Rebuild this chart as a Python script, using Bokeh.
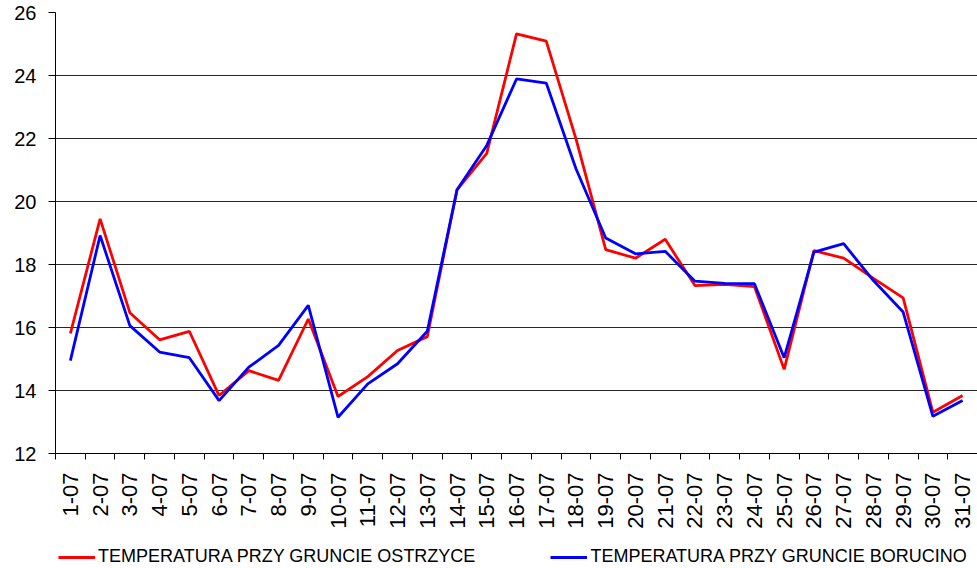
import math
from bokeh.plotting import figure
from bokeh.layouts import column
from bokeh.models import Range1d, FixedTicker, Legend, LegendItem
from bokeh.embed import file_html
from bokeh.resources import INLINE

days = list(range(1, 32))
day_labels = [f"{d}-07" for d in days]

ostrzyce = [15.81, 19.45, 16.47, 15.61, 15.88, 13.84, 14.63, 14.32, 16.27, 13.81,
            14.44, 15.27, 15.71, 20.37, 21.53, 25.32, 25.09, 21.99, 18.47, 18.20,
            18.80, 17.33, 17.37, 17.30, 14.67, 18.44, 18.20, 17.56, 16.94, 13.31, 13.84]
borucino = [14.95, 18.92, 16.06, 15.22, 15.04, 13.68, 14.74, 15.43, 16.70, 13.15,
            14.21, 14.85, 15.88, 20.37, 21.78, 23.89, 23.76, 21.04, 18.84, 18.34,
            18.42, 17.47, 17.40, 17.39, 15.04, 18.39, 18.66, 17.49, 16.49, 13.18, 13.68]

series_names = ["TEMPERATURA PRZY GRUNCIE OSTRZYCE", "TEMPERATURA PRZY GRUNCIE BORUCINO"]
series_colors = ["#FF0000", "#0000FF"]

y_ticks = [12, 14, 16, 18, 20, 22, 24, 26]

FONT = "Liberation Sans"

p = figure(frame_width=922, frame_height=441, output_backend="svg", toolbar_location=None,
           x_range=Range1d(0.5, 31.5), y_range=Range1d(12, 26),
           min_border_left=55, min_border_right=0, min_border_top=12, min_border_bottom=0)
p.outline_line_color = None
p.background_fill_color = "white"

p.line(days, ostrzyce, line_color=series_colors[0], line_width=2.8)
p.line(days, borucino, line_color=series_colors[1], line_width=2.8)

# y axis
p.yaxis.ticker = FixedTicker(ticks=y_ticks)
p.yaxis.major_label_text_font = FONT
p.yaxis.major_label_text_font_size = "20px"
p.yaxis.major_label_text_color = "black"
p.yaxis.major_tick_out = 7
p.yaxis.major_tick_in = 0
p.yaxis.minor_tick_line_color = None
p.yaxis.axis_line_color = "black"
p.yaxis.major_label_standoff = 12
p.ygrid.ticker = FixedTicker(ticks=y_ticks)
p.ygrid.grid_line_color = "black"
p.ygrid.grid_line_width = 1
p.ygrid.grid_line_alpha = 0.85

# x axis
p.xaxis.ticker = FixedTicker(ticks=days, minor_ticks=[d - 0.5 for d in days] + [31.5])
p.xaxis.major_label_overrides = {d: lab for d, lab in zip(days, day_labels)}
p.xaxis.major_label_orientation = math.pi / 2
p.xaxis.major_label_text_font = FONT
p.xaxis.major_label_text_font_size = "22px"
p.xaxis.major_label_text_color = "black"
p.xaxis.major_tick_line_color = None
p.xaxis.major_tick_out = 6
p.xaxis.minor_tick_out = 6
p.xaxis.minor_tick_in = 0
p.xaxis.minor_tick_line_color = "black"
p.xaxis.axis_line_color = "black"
p.xaxis.major_label_standoff = 13
p.xgrid.grid_line_color = None

# legend strip below the chart
lg = figure(width=977, height=36, output_backend="svg", toolbar_location=None,
            x_axis_location=None, y_axis_location=None,
            x_range=Range1d(0, 1), y_range=Range1d(0, 1),
            min_border_left=0, min_border_right=0, min_border_top=0, min_border_bottom=0)
lg.outline_line_color = None
lg.xgrid.grid_line_color = None
lg.ygrid.grid_line_color = None
# renderers used only for the legend swatches; their points lie outside the strip's ranges
dummies = [lg.line([5, 6], [5, 5], line_color=c, line_width=2.8) for c in series_colors]

legend = Legend(items=[LegendItem(label=n, renderers=[r]) for n, r in zip(series_names, dummies)],
                orientation="horizontal", location=(3, 0),
                border_line_color=None, background_fill_alpha=0,
                label_text_font=FONT, label_text_font_size="18px",
                label_text_color="black",
                glyph_width=37, glyph_height=20, label_standoff=3, spacing=75,
                padding=0, margin=0)
lg.add_layout(legend, "center")

layout = column(p, lg, spacing=0)
open("out.html", "w").write(file_html(layout, INLINE))
